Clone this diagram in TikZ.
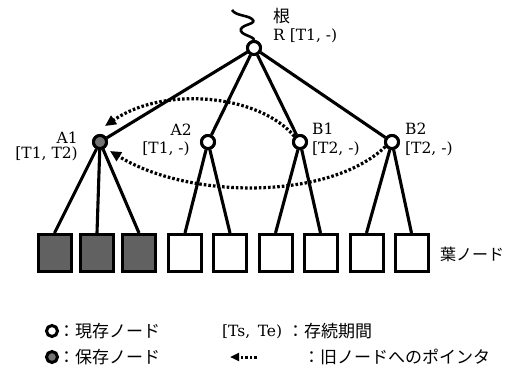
\documentclass[tikz,border=0pt]{standalone}
\usepackage{fontspec}
\newfontfamily\jp{Noto Sans CJK JP}
\newfontfamily\ser{DejaVu Serif}
\usetikzlibrary{arrows.meta}
\begin{document}
\begin{tikzpicture}[x=1pt,y=-1pt,
  cur/.style={circle, draw, line width=3pt, fill=white, minimum size=13pt, inner sep=0pt},
  sav/.style={cur, fill=black!55},
  leaf/.style={rectangle, draw, line width=3pt, fill=white, minimum width=33pt, minimum height=37pt, inner sep=0pt},
  oldleaf/.style={leaf, fill=black!62},
  edge/.style={line width=3.1pt},
  ptr/.style={line width=3.2pt, dash pattern=on 2.6pt off 2pt, -{Triangle[length=11pt,width=10pt]}},
  lat/.style={font=\ser\fontsize{15.5}{17}\selectfont, inner sep=0pt},
  jpl/.style={font=\jp\fontsize{17}{18}\selectfont, inner sep=0pt},
]
\useasboundingbox (0,0) rectangle (528,372);

% tree nodes
\node[cur] (R) at (254,48) {};
\node[sav] (A1) at (100,142) {};
\node[cur] (A2) at (208,142) {};
\node[cur] (B1) at (300,142) {};
\node[cur] (B2) at (392,142) {};

% leaves
\node[oldleaf] (L1) at (54.5,253) {};
\node[oldleaf] (L2) at (97,253) {};
\node[oldleaf] (L3) at (139,253) {};
\node[leaf] (L4) at (185,253) {};
\node[leaf] (L5) at (230,253) {};
\node[leaf] (L6) at (275.5,253) {};
\node[leaf] (L7) at (320.5,253) {};
\node[leaf] (L8) at (366.5,253) {};
\node[leaf] (L9) at (411.5,253) {};

% squiggle above root
\draw[line width=2.6pt] (R.north) .. controls (254,36) and (239,35) .. (241,29)
  .. controls (243,24) and (258,24) .. (252,19)
  .. controls (247,15) and (236,16) .. (232,10);

% edges
\draw[edge] (R) -- (A1);
\draw[edge] (R) -- (A2);
\draw[edge] (R) -- (B1);
\draw[edge] (R) -- (B2);
\draw[edge] (A1) -- (L1.north);
\draw[edge] (A1) -- (L2.north);
\draw[edge] (A1) -- (L3.north);
\draw[edge] (A2) -- (L4.north);
\draw[edge] (A2) -- (L5.north);
\draw[edge] (B1) -- (L6.north);
\draw[edge] (B1) -- (L7.north);
\draw[edge] (B2) -- (L8.north);
\draw[edge] (B2) -- (L9.north);

% redraw nodes on top
\node[cur] at (R) {};
\node[sav] at (A1) {};
\node[cur] at (A2) {};
\node[cur] at (B1) {};
\node[cur] at (B2) {};

% pointers to old node
\draw[ptr] (B1.135) .. controls (260,95) and (165,85) .. ([xshift=5pt,yshift=16pt]A1.center);
\draw[ptr] (B2.215) .. controls (330,200) and (190,200) .. ([xshift=10pt,yshift=-9pt]A1.center);

% labels
\node[jpl, anchor=base west] (tRoot) at (273,23) {根};
\node[lat, anchor=base west] (tR) at (273,40) {R [T1, -)};
\node[lat, anchor=base east] (tA1) at (78,143) {A1};
\node[lat, anchor=base east] (tA1p) at (78,158.5) {[T1, T2)};
\node[lat, anchor=base east] (tA2) at (192,135) {A2};
\node[lat, anchor=base east] (tA2p) at (190,153) {[T1, -)};
\node[lat, anchor=base west] (tB1) at (312,134) {B1};
\node[lat, anchor=base west] (tB1p) at (312,153) {[T2, -)};
\node[lat, anchor=base west] (tB2) at (405,134) {B2};
\node[lat, anchor=base west] (tB2p) at (405,153) {[T2, -)};
\node[jpl, anchor=base west, font=\jp\fontsize{16}{17}\selectfont] (tLeaf) at (440,260) {葉ノード};

% legend
\node[cur, minimum size=11pt] (lg1) at (52,331) {};
\node[sav, minimum size=11pt] (lg2) at (52,357) {};
\node[jpl, anchor=base west] (lt1) at (58,337) {：現存ノード};
\node[jpl, anchor=base west] (lt2) at (58,363) {：保存ノード};
\node[lat, anchor=base west] (lt3) at (222,336.5) {[Ts,\, Te)};
\node[jpl, anchor=base west] (lt4) at (287,337) {：存続期間};
\coordinate (la1) at (257,357);
\coordinate (la2) at (230,357);
\draw[line width=3pt, dash pattern=on 2.6pt off 2pt, -{Triangle[length=9pt,width=8pt]}] (la1) -- (la2);
\node[jpl, anchor=base west] (lt5) at (303,363) {：旧ノードへのポインタ};
\end{tikzpicture}
\end{document}
